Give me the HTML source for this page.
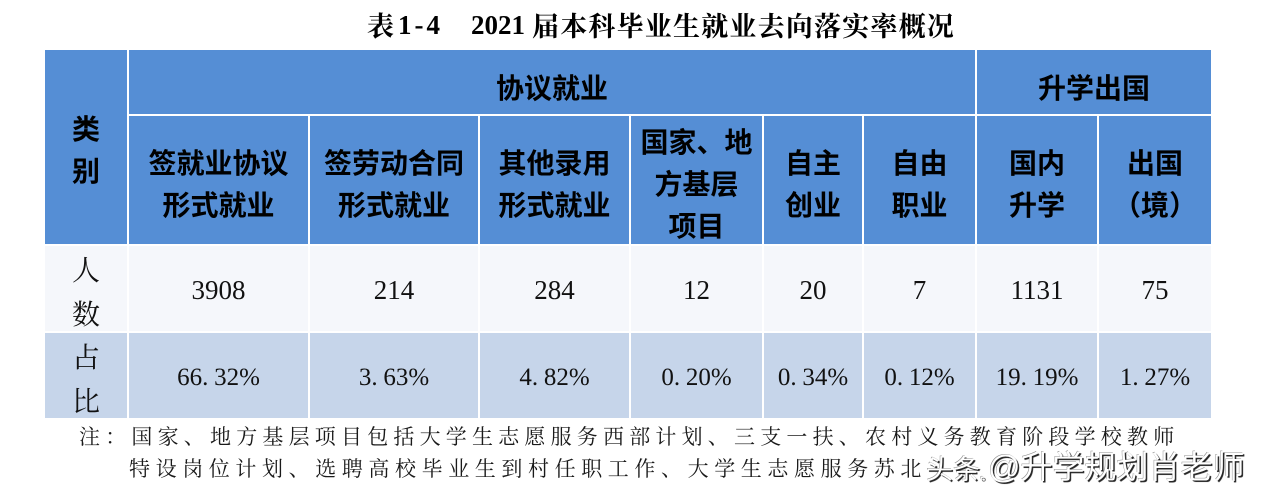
<!DOCTYPE html>
<html lang="zh">
<head>
<meta charset="utf-8">
<style>
  html,body{margin:0;padding:0;}
  body{width:1268px;height:500px;background:#ffffff;position:relative;overflow:hidden;
       font-family:"Liberation Sans","Noto Sans CJK SC",sans-serif;}
  .c{position:absolute;box-sizing:border-box;display:flex;flex-direction:column;
     align-items:center;justify-content:center;text-align:center;}
  .h{background:#558ed5;color:#000;font-family:"Noto Sans CJK SC",sans-serif;font-weight:700;
     font-size:28px;line-height:42px;}
  .r3{background:#f5f7fb;}
  .r4{background:#c6d5ea;}
  .lab{font-family:"Noto Serif CJK SC",serif;font-size:28px;line-height:44px;color:#111;}
  .num{font-family:"Liberation Serif",serif;font-size:27px;line-height:30px;color:#111;padding-top:3px;}
  .pct{font-family:"Liberation Serif",serif;font-size:25px;line-height:30px;color:#111;padding-top:5px;}
  .pct .d{display:inline-block;width:12px;text-align:left;}
  .t{position:absolute;white-space:nowrap;}
</style>
</head>
<body>

<!-- Title -->
<div class="t" style="left:367px;top:10px;font-family:'Noto Serif CJK SC',serif;font-weight:700;font-size:27px;line-height:30px;color:#000;">表</div>
<div class="t" style="left:398px;top:10px;font-family:'Liberation Serif',serif;font-weight:700;font-size:27px;line-height:30px;letter-spacing:3px;color:#000;">1-4</div>
<div class="t" style="left:471px;top:10px;font-family:'Liberation Serif',serif;font-weight:700;font-size:27px;line-height:30px;color:#000;">2021</div>
<div class="t" style="left:532px;top:10px;font-family:'Noto Serif CJK SC',serif;font-weight:700;font-size:27px;line-height:30px;letter-spacing:1.2px;color:#000;">届本科毕业生就业去向落实率概况</div>

<!-- Header -->
<div class="c h" style="left:45px;top:50px;width:82px;height:194px;padding-top:4px;">类<br>别</div>
<div class="c h" style="left:129px;top:50px;width:846px;height:64px;padding-top:9px;">协议就业</div>
<div class="c h" style="left:977px;top:50px;width:234px;height:64px;padding-top:9px;">升学出国</div>

<div class="c h" style="left:129px;top:116px;width:179px;height:128px;padding-top:6px;">签就业协议<br>形式就业</div>
<div class="c h" style="left:310px;top:116px;width:168px;height:128px;padding-top:6px;">签劳动合同<br>形式就业</div>
<div class="c h" style="left:480px;top:116px;width:149px;height:128px;padding-top:6px;">其他录用<br>形式就业</div>
<div class="c h" style="left:631px;top:116px;width:131px;height:128px;padding-top:6px;">国家、地<br>方基层<br>项目</div>
<div class="c h" style="left:764px;top:116px;width:98px;height:128px;padding-top:6px;">自主<br>创业</div>
<div class="c h" style="left:864px;top:116px;width:111px;height:128px;padding-top:6px;">自由<br>职业</div>
<div class="c h" style="left:977px;top:116px;width:120px;height:128px;padding-top:6px;">国内<br>升学</div>
<div class="c h" style="left:1099px;top:116px;width:112px;height:128px;padding-top:6px;">出国<br>（境）</div>

<!-- Row 3: 人数 -->
<div class="c r3 lab" style="left:45px;top:246px;width:82px;height:85px;padding-top:5px;">人<br>数</div>
<div class="c r3 num" style="left:129px;top:246px;width:179px;height:85px;">3908</div>
<div class="c r3 num" style="left:310px;top:246px;width:168px;height:85px;">214</div>
<div class="c r3 num" style="left:480px;top:246px;width:149px;height:85px;">284</div>
<div class="c r3 num" style="left:631px;top:246px;width:131px;height:85px;">12</div>
<div class="c r3 num" style="left:764px;top:246px;width:98px;height:85px;">20</div>
<div class="c r3 num" style="left:864px;top:246px;width:111px;height:85px;">7</div>
<div class="c r3 num" style="left:977px;top:246px;width:120px;height:85px;">1131</div>
<div class="c r3 num" style="left:1099px;top:246px;width:112px;height:85px;">75</div>

<!-- Row 4: 占比 -->
<div class="c r4 lab" style="left:45px;top:333px;width:82px;height:85px;padding-top:5px;">占<br>比</div>
<div class="c r4 pct" style="left:129px;top:333px;width:179px;height:85px;"><span>66<span class="d">.</span>32%</span></div>
<div class="c r4 pct" style="left:310px;top:333px;width:168px;height:85px;"><span>3<span class="d">.</span>63%</span></div>
<div class="c r4 pct" style="left:480px;top:333px;width:149px;height:85px;"><span>4<span class="d">.</span>82%</span></div>
<div class="c r4 pct" style="left:631px;top:333px;width:131px;height:85px;"><span>0<span class="d">.</span>20%</span></div>
<div class="c r4 pct" style="left:764px;top:333px;width:98px;height:85px;"><span>0<span class="d">.</span>34%</span></div>
<div class="c r4 pct" style="left:864px;top:333px;width:111px;height:85px;"><span>0<span class="d">.</span>12%</span></div>
<div class="c r4 pct" style="left:977px;top:333px;width:120px;height:85px;"><span>19<span class="d">.</span>19%</span></div>
<div class="c r4 pct" style="left:1099px;top:333px;width:112px;height:85px;"><span>1<span class="d">.</span>27%</span></div>

<!-- Note -->
<div class="t" style="left:79px;top:424px;font-family:'Noto Serif CJK SC',serif;font-size:21px;line-height:25px;letter-spacing:5.2px;color:#1a1a1a;">注：国家、地方基层项目包括大学生志愿服务西部计划、三支一扶、农村义务教育阶段学校教师</div>
<div class="t" style="left:129px;top:456px;font-family:'Noto Serif CJK SC',serif;font-size:21px;line-height:25px;letter-spacing:5.6px;color:#1a1a1a;">特设岗位计划、选聘高校毕业生到村任职工作、大学生志愿服务苏北</div>

<!-- Watermark -->
<div class="t" style="left:926px;top:451px;font-family:'Noto Sans CJK SC',sans-serif;font-size:27px;line-height:34px;color:#fff;text-shadow:1.5px 1.5px 0.5px rgba(0,0,0,.85),-0.5px -0.5px 0 rgba(0,0,0,.45);">头条<span style="font-size:12px;">。</span></div>
<div class="t" style="left:988px;top:449px;font-family:'Liberation Sans','Noto Sans CJK SC',sans-serif;font-size:32px;line-height:36px;color:#fff;text-shadow:1.5px 1.5px 0.5px rgba(0,0,0,.85),-0.5px -0.5px 0 rgba(0,0,0,.45);">@升学规划肖老师</div>

</body>
</html>
